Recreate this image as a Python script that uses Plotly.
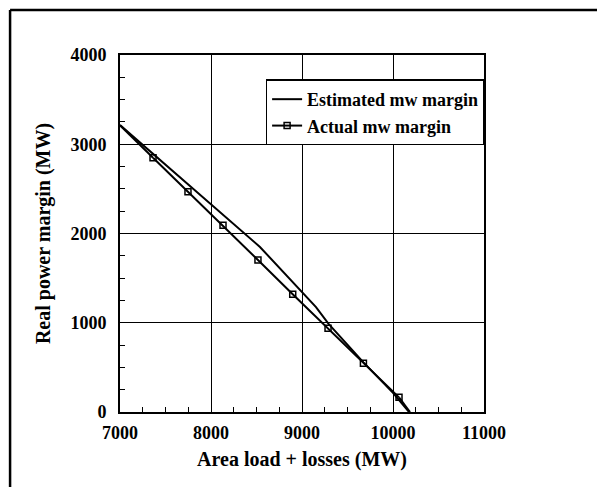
import plotly.graph_objects as go

# Estimated mw margin (line only)
est_x = [7000, 7791, 8538, 9154, 9290, 9675, 10000, 10176]
est_y = [3215, 2510, 1849, 1176, 990, 556, 215, 0]

# Actual mw margin (markers)
act_x = [7363, 7747, 8132, 8516, 8898, 9286, 9675, 10066]
act_y = [2849, 2468, 2092, 1703, 1319, 938, 545, 164]
# Actual line extensions (no markers)
act_ext_x = [7000, 7363, None, 10066, 10187]
act_ext_y = [3212, 2849, None, 164, 0]

x_ticks = [7000, 8000, 9000, 10000, 11000]
x_ticklabels = ["7000", "8000", "9000", "10000", "11000"]
y_ticks = [0, 1000, 2000, 3000, 4000]
y_ticklabels = ["0", "1000", "2000", "3000", "4000"]

FONT = "Liberation Serif"
blk = "black"

fig = go.Figure()
fig.add_trace(go.Scatter(x=est_x, y=est_y, mode="lines", name="Estimated mw margin",
                         line=dict(color=blk, width=2)))
fig.add_trace(go.Scatter(x=act_x, y=act_y, mode="lines+markers", name="Actual mw margin",
                         line=dict(color=blk, width=2),
                         marker=dict(symbol="square-open", size=6, color=blk,
                                     line=dict(width=1.5, color=blk))))
fig.add_trace(go.Scatter(x=act_ext_x, y=act_ext_y, mode="lines", showlegend=False,
                         line=dict(color=blk, width=2)))

axis_common = dict(
    showline=True, mirror=True, linecolor=blk, linewidth=2,
    showgrid=True, gridcolor=blk, gridwidth=1,
    ticks="inside", ticklen=5, tickcolor=blk, tickwidth=1,
    zeroline=False,
    tickfont=dict(family=FONT, size=18, color=blk, weight="bold"),
)

fig.update_xaxes(range=[7000, 11000], tickvals=x_ticks, ticktext=x_ticklabels,
                 ticklabelstandoff=3,
                 minor=dict(dtick=250, ticks="inside", ticklen=5, tickcolor=blk, showgrid=False),
                 title=dict(text="<b>Area load + losses (MW)</b>",
                            font=dict(family=FONT, size=20, color=blk), standoff=10),
                 **axis_common)
fig.update_yaxes(range=[0, 4000], tickvals=y_ticks, ticktext=y_ticklabels,
                 ticklabelstandoff=8,
                 minor=dict(dtick=250, ticks="inside", ticklen=5, tickcolor=blk, showgrid=False),
                 title=dict(text="<b>Real power margin (MW)</b>",
                            font=dict(family=FONT, size=20, color=blk), standoff=14),
                 **axis_common)

fig.update_layout(
    width=597, height=487,
    margin=dict(l=120, r=113, t=55, b=75),
    paper_bgcolor="white", plot_bgcolor="white",
    font=dict(family=FONT, color=blk),
    legend=dict(x=0.40, y=0.839, xanchor="left", yanchor="middle",
                bgcolor="white", bordercolor=blk, borderwidth=1.5,
                font=dict(family=FONT, size=18, color=blk, weight="bold"),
                itemwidth=30, tracegroupgap=0),
    shapes=[
        dict(type="line", xref="paper", yref="paper", x0=-0.302, x1=-0.302, y0=-0.35, y1=1.126,
             line=dict(color=blk, width=2.5)),
        dict(type="line", xref="paper", yref="paper", x0=-0.302, x1=1.45, y0=1.126, y1=1.126,
             line=dict(color=blk, width=2.5)),
    ],
)

fig.write_html(
    "out.html",
    config={"displayModeBar": False},
    post_script="document.body.style.margin='0';document.body.style.overflow='hidden';",
)
